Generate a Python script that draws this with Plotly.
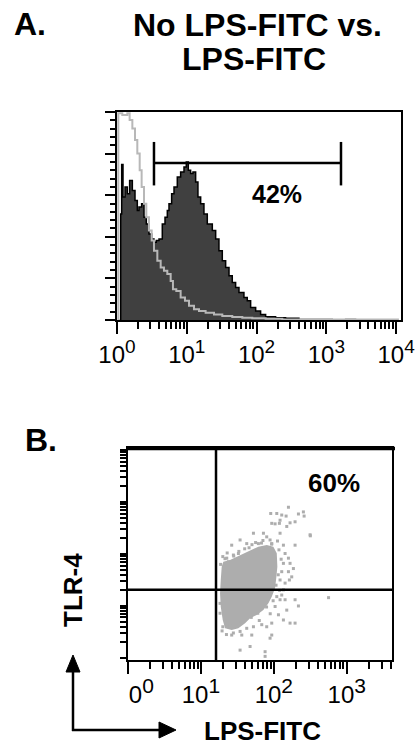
import numpy as np
import plotly.graph_objects as go

# ---------------- Panel A data (log10 fluorescence, relative count) ----------------
lps_log10 = [0.038, 0.053, 0.067, 0.086, 0.115, 0.148, 0.181, 0.22, 0.258, 0.291, 0.315, 0.353,
             0.387, 0.42, 0.458, 0.497, 0.53, 0.563, 0.602, 0.649, 0.688, 0.721, 0.745, 0.783,
             0.817, 0.864, 0.912, 0.96, 0.993, 1.022, 1.055, 1.089, 1.127, 1.16, 1.199, 1.246,
             1.294, 1.366, 1.414, 1.461, 1.509, 1.557, 1.605, 1.652, 1.7, 1.748, 1.819, 1.867,
             1.915, 1.987, 2.058, 2.13, 2.273, 2.416, 2.607, 3.085, 3.276, 3.419]
lps_count = [0, 51.0, 74.7, 59.1, 63.9, 60.7, 67.1, 62.3, 57.5, 52.7, 54.3, 55.9, 49.4, 46.2,
             41.4, 39.0, 37.4, 38.2, 39.0, 46.2, 49.4, 52.7, 55.9, 60.7, 63.9, 68.8, 71.2, 73.6,
             76.0, 72.0, 70.4, 71.2, 66.3, 59.1, 55.9, 51.0, 46.2, 43.0, 39.0, 33.3, 28.5, 25.3,
             21.3, 18.0, 15.6, 13.2, 10.8, 9.2, 6.0, 4.3, 2.7, 1.6, 1.1, 0.8, 0.3, 0.1, 0.3, 0]

ctrl_log10 = [0.019, 0.019, 0.076, 0.148, 0.181, 0.22, 0.258, 0.291, 0.325, 0.353, 0.387, 0.42,
              0.458, 0.497, 0.53, 0.578, 0.626, 0.673, 0.721, 0.769, 0.802, 0.85, 0.912, 0.974,
              1.032, 1.103, 1.175, 1.27, 1.39, 1.509, 1.652, 1.796, 1.939, 2.13, 2.369, 2.607,
              3.085, 3.563, 4.04]
ctrl_count = [0, 99.4, 98.6, 99.4, 96.1, 92.1, 86.5, 80.0, 72.0, 63.9, 55.9, 49.4, 43.0, 38.2,
              33.3, 28.5, 25.3, 23.7, 22.1, 18.8, 14.8, 14.0, 10.8, 9.2, 6.8, 5.2, 4.3, 3.5,
              2.7, 1.9, 1.4, 1.1, 0.8, 0.6, 0.3, 0.2, 0.2, 0.2, 0.2]

gate_log10 = [0.53, 3.21]
gate_level = 75.5
gate_end_low, gate_end_high = 64.7, 85.6
gate_pct = "42%"

a_tickvals = [1, 10, 100, 1000, 10000]
a_tick_base = ["10", "10", "10", "10", "10"]
a_tick_exp = ["0", "1", "2", "3", "4"]

# ---------------- Panel B data (log10 LPS-FITC, log10 TLR-4) ----------------
core_lx = [1.285, 1.307, 1.399, 1.491, 1.582, 1.674, 1.787, 1.903, 1.993, 2.040, 2.048, 2.030,
           2.016, 1.971, 1.925, 1.856, 1.765, 1.674, 1.605, 1.513, 1.422, 1.331, 1.299, 1.272,
           1.262, 1.272]
core_ly = [1.756, 1.852, 1.885, 1.948, 2.013, 2.077, 2.140, 2.173, 2.140, 2.013, 1.756, 1.500,
           1.340, 1.179, 1.051, 0.923, 0.827, 0.763, 0.667, 0.571, 0.538, 0.571, 0.731, 0.987,
           1.244, 1.500]

event_lx = [2.20, 1.957, 2.04, 2.108, 2.168, 2.337, 2.405, 2.415, 1.971, 2.017, 2.076, 2.085,
            2.222, 2.291, 2.177, 2.497, 1.72, 1.857, 1.902, 2.085, 1.948, 1.971, 1.537, 1.628,
            1.422, 1.788, 2.131, 2.291, 2.154, 2.20, 2.222, 2.268, 2.131, 2.108, 2.20, 2.245,
            2.085, 2.213, 1.354, 1.377, 1.445, 1.514, 2.154, 2.108, 2.154, 2.291, 2.337, 2.177,
            2.017, 2.063, 2.131, 2.222, 2.291, 1.971, 1.902, 1.834, 1.72, 1.628, 1.537, 1.445,
            1.422, 1.56, 1.697, 1.971, 1.948, 1.537, 1.674, 1.88, 1.88, 1.262, 1.262, 2.085,
            2.04, 2.131, 2.75, 2.50, 1.30, 1.36, 1.60, 1.75, 1.85, 2.05, 2.10, 2.08, 1.95, 1.80,
            1.35, 1.30, 1.27, 1.33, 1.45, 1.52, 1.66, 1.70, 1.83, 1.97, 2.07, 2.06, 2.03, 1.99,
            1.90, 1.78, 1.69, 1.55, 1.40, 1.29]
event_ly = [2.90, 2.78, 2.78, 2.75, 2.73, 2.77, 2.81, 2.73, 2.59, 2.58, 2.59, 2.65, 2.60, 2.62,
            2.53, 2.37, 2.40, 2.40, 2.33, 2.40, 2.27, 2.20, 2.27, 2.20, 2.17, 2.20, 2.17, 2.17,
            2.01, 1.92, 1.82, 1.72, 1.82, 1.66, 1.66, 1.56, 1.50, 1.50, 1.92, 1.85, 1.98, 2.01,
            1.44, 1.21, 1.12, 1.12, 1.00, 0.92, 0.99, 0.83, 0.73, 0.67, 0.67, 0.67, 0.60, 0.64,
            0.60, 0.57, 0.51, 0.48, 0.44, 0.44, 0.44, 0.44, 0.38, 0.15, 0.22, 0.12, 0.03, 1.05,
            0.86, 1.12, 1.18, 1.31, 1.16, 2.35, 1.95, 2.02, 2.10, 2.22, 2.26, 2.25, 1.90, 1.30,
            0.85, 0.72, 0.45, 0.60, 1.80, 1.91, 1.96, 2.05, 2.12, 2.18, 2.21, 2.19, 2.08, 1.60,
            1.40, 1.10, 0.98, 0.86, 0.78, 0.69, 0.62, 0.52, 0.50, 0.68]

quad_x = 16.1
quad_y = 20.4
quad_pct = "60%"

b_tickvals = [1, 10, 100, 1000]
b_tick_base = ["&nbsp;&nbsp;&nbsp;&nbsp;0", "10", "10", "10"]
b_tick_exp = ["0", "1", "2", "3"]

# ---------------- figure ----------------
W, H = 417, 745
FONT = "Liberation Sans, Arial, Helvetica, sans-serif"
DARK = "#404040"
LIGHT = "#b8b8b8"
CLOUD = "#adadad"


def powlabels(bases, exps, sup):
    return [f"{b}<sup><span style='font-size:{sup}px'>{e}</span></sup>" for b, e in zip(bases, exps)]


fig = go.Figure()

fig.add_trace(go.Scatter(x=10 ** np.array(lps_log10), y=lps_count, mode="lines",
                         line=dict(shape="hv", color="black", width=1.5),
                         fill="tozeroy", fillcolor=DARK, xaxis="x", yaxis="y",
                         showlegend=False, hoverinfo="skip"))
fig.add_trace(go.Scatter(x=10 ** np.array(ctrl_log10), y=ctrl_count, mode="lines",
                         line=dict(shape="hv", color=LIGHT, width=2),
                         xaxis="x", yaxis="y", showlegend=False, hoverinfo="skip"))
g0, g1 = 10 ** gate_log10[0], 10 ** gate_log10[1]
fig.add_trace(go.Scatter(x=[g0, g0, None, g0, g1, None, g1, g1],
                         y=[gate_end_low, gate_end_high, None, gate_level, gate_level, None,
                            gate_end_low, gate_end_high],
                         mode="lines", line=dict(color="black", width=2.5),
                         xaxis="x", yaxis="y", showlegend=False, hoverinfo="skip"))

fig.add_trace(go.Scatter(x=10 ** np.array(core_lx), y=10 ** np.array(core_ly), mode="lines",
                         fill="toself", fillcolor=CLOUD, line=dict(width=0, color=CLOUD),
                         xaxis="x2", yaxis="y2", showlegend=False, hoverinfo="skip"))
fig.add_trace(go.Scatter(x=10 ** np.array(event_lx), y=10 ** np.array(event_ly), mode="markers",
                         marker=dict(symbol="square", size=3, color=CLOUD, line=dict(width=0)),
                         xaxis="x2", yaxis="y2", showlegend=False, hoverinfo="skip"))
fig.add_trace(go.Scatter(x=[quad_x, quad_x, None, 1, 10 ** 3.7],
                         y=[10 ** -0.1, 10 ** 4.1, None, quad_y, quad_y],
                         mode="lines", line=dict(color="black", width=2.5),
                         xaxis="x2", yaxis="y2", showlegend=False, hoverinfo="skip"))

axis_common = dict(showgrid=False, zeroline=False, showline=True, linecolor="black",
                   linewidth=2, mirror=True, ticks="outside", tickcolor="black",
                   tickwidth=2, automargin=False, ticklabeloverflow="allow",
                   tickfont=dict(family=FONT, size=24, color="black"))

fig.update_layout(
    width=W, height=H, margin=dict(l=0, r=0, t=0, b=0, autoexpand=False),
    paper_bgcolor="white", plot_bgcolor="white",
    font=dict(family=FONT, color="black"),
    xaxis=dict(axis_common, type="log", range=[0, 4.07], domain=[117 / W, 401 / W],
               anchor="y", tickvals=a_tickvals,
               ticktext=powlabels(a_tick_base, a_tick_exp, 19), ticklen=12,
               minor=dict(dtick="D1", ticks="outside", ticklen=7, tickwidth=2,
                          tickcolor="black", showgrid=False)),
    yaxis=dict(axis_common, range=[0, 100], domain=[1 - 320 / H, 1 - 112 / H], anchor="x",
               dtick=20, ticklen=10, showticklabels=False,
               minor=dict(dtick=4, ticks="outside", ticklen=5, tickwidth=2,
                          tickcolor="black", showgrid=False)),
    xaxis2=dict(axis_common, type="log", range=[0, 3.62], domain=[128 / W, 392 / W],
                anchor="y2", tickvals=b_tickvals,
                ticktext=powlabels(b_tick_base, b_tick_exp, 21), ticklen=12,
                minor=dict(dtick="D1", ticks="outside", ticklen=7, tickwidth=2,
                           tickcolor="black", showgrid=False)),
    yaxis2=dict(axis_common, type="log", range=[-0.04, 4.04],
                domain=[1 - 660 / H, 1 - 448 / H], anchor="x2",
                dtick="D1", ticklen=6, showticklabels=False),
)


def ann(text, x, y, size, **kw):
    d = dict(text=text, x=x, y=y, xref="paper", yref="paper", showarrow=False,
             xanchor="center", yanchor="middle",
             font=dict(family=FONT, size=size, color="black"))
    d.update(kw)
    fig.add_annotation(**d)


ann("<b>A.</b>", 30 / W, 1 - 24.5 / H, 32)
ann("<b>No LPS-FITC vs.</b>", 257 / W, 1 - 25 / H, 32)
ann("<b>LPS-FITC</b>", 254 / W, 1 - 58.5 / H, 32)
ann("<b>B.</b>", 41 / W, 1 - 440 / H, 32)
ann("<b>TLR-4</b>", 73 / W, 1 - 590 / H, 26, textangle=-90)
ann("<b>LPS-FITC</b>", 262 / W, 1 - 731 / H, 26)
fig.add_annotation(text="<b>" + gate_pct + "</b>", x=2.30, y=60.7, xref="x", yref="y",
                   showarrow=False, font=dict(family=FONT, size=25, color="black"))
fig.add_annotation(text="<b>" + quad_pct + "</b>", x=2.826, y=3.365, xref="x2", yref="y2",
                   showarrow=False, font=dict(family=FONT, size=26, color="black"))

fig.add_shape(type="line", xref="paper", yref="paper", x0=127 / W, x1=395 / W,
              y0=1 - 448.5 / H, y1=1 - 448.5 / H, line=dict(color="black", width=3.5))


def P(px, py):
    return px / W, 1 - py / H


vx, vy0 = P(73, 731)
_, vy1 = P(73, 668)
fig.add_shape(type="line", xref="paper", yref="paper", x0=vx, x1=vx, y0=vy0, y1=vy1,
              line=dict(color="black", width=2.5))
t1, t2, t3 = P(73, 655), P(66, 672), P(80, 672)
fig.add_shape(type="path", xref="paper", yref="paper",
              path=f"M {t1[0]} {t1[1]} L {t2[0]} {t2[1]} L {t3[0]} {t3[1]} Z",
              fillcolor="black", line=dict(color="black", width=1))
hx0, hy = P(72, 730)
hx1, _ = P(162, 730)
fig.add_shape(type="line", xref="paper", yref="paper", x0=hx0, x1=hx1, y0=hy, y1=hy,
              line=dict(color="black", width=2.5))
t1, t2, t3 = P(176, 730), P(159, 722), P(159, 738)
fig.add_shape(type="path", xref="paper", yref="paper",
              path=f"M {t1[0]} {t1[1]} L {t2[0]} {t2[1]} L {t3[0]} {t3[1]} Z",
              fillcolor="black", line=dict(color="black", width=1))

fig.write_html("out.html")
